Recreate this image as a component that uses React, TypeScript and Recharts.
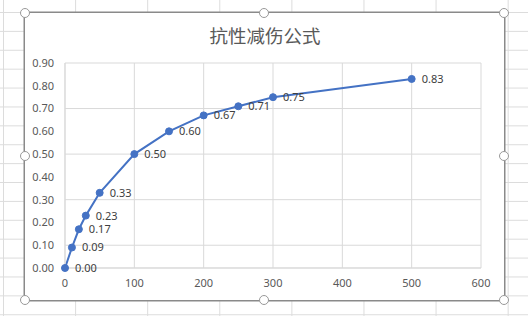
import { CartesianGrid, LabelList, Line, LineChart, XAxis, YAxis } from "recharts";

// resistance value vs. damage reduction
const resist = [0, 10, 20, 30, 50, 100, 150, 200, 250, 300, 500];
const reduction = [0, 0.09, 0.17, 0.23, 0.33, 0.5, 0.6, 0.67, 0.71, 0.75, 0.83];
const xTicks = [0, 100, 200, 300, 400, 500, 600];
const yTicks = [0, 0.1, 0.2, 0.3, 0.4, 0.5, 0.6, 0.7, 0.8, 0.9];
const title = "抗性减伤公式";

const data = resist.map((x, i) => ({ x, y: reduction[i] }));

const BLUE = "#4472C4";
const TEXT = "#595959";
const GRID = "#d9d9d9";
const FRAME = "#8a8a8a";

// selection handles around the chart frame
const handles = [
  [25, 13], [264, 13], [504, 13],
  [25, 156], [504, 156],
  [25, 300], [264, 300], [504, 300],
];

export default function App() {
  const tick = { fill: TEXT, fontSize: 11, fontFamily: "Noto Sans, sans-serif" };
  return (
    <div
      style={{
        position: "absolute",
        left: 0,
        top: 0,
        width: 528,
        height: 316,
        overflow: "hidden",
        background: "#fff",
        backgroundImage:
          "linear-gradient(to right, #dcdcdc 1px, transparent 1px), linear-gradient(to bottom, #dcdcdc 1px, transparent 1px)",
        backgroundSize: "72.1px 18.9px",
        backgroundPosition: "3px 12px",
      }}
    >
      <div
        style={{
          position: "absolute",
          left: 25,
          top: 13,
          width: 479,
          height: 287,
          background: "#fff",
          boxShadow: `0 0 0 1.5px ${FRAME}`,
        }}
      />
      <div
        style={{
          position: "absolute",
          left: 0,
          width: 528,
          top: 23,
          textAlign: "center",
          paddingLeft: 1,
          fontFamily: "Noto Sans CJK SC, sans-serif",
          fontSize: 18.5,
          lineHeight: "24px",
          color: TEXT,
        }}
      >
        {title}
      </div>
      <div style={{ position: "absolute", left: 0, top: 0 }}>
        <LineChart
          width={528}
          height={316}
          data={data}
          margin={{ top: 63, right: 47, bottom: 18, left: 25 }}
        >
          <CartesianGrid stroke={GRID} strokeWidth={1} />
          <XAxis
            dataKey="x"
            type="number"
            domain={[0, 600]}
            ticks={xTicks}
            tick={tick}
            tickLine={false}
            tickMargin={5}
            axisLine={{ stroke: GRID }}
            height={30}
          />
          <YAxis
            type="number"
            domain={[0, 0.9]}
            ticks={yTicks}
            tick={tick}
            tickLine={false}
            tickMargin={5}
            axisLine={{ stroke: GRID }}
            width={40}
            tickFormatter={(v: number) => v.toFixed(2)}
          />
          <Line
            type="linear"
            dataKey="y"
            stroke={BLUE}
            strokeWidth={2}
            dot={{ r: 3.5, fill: BLUE, stroke: BLUE, strokeWidth: 1 }}
            isAnimationActive={false}
          >
            <LabelList
              dataKey="y"
              position="right"
              offset={10}
              formatter={(v: number) => v.toFixed(2)}
              style={{ fill: "#404040", fontSize: 11, fontFamily: "Noto Sans, sans-serif" }}
            />
          </Line>
        </LineChart>
      </div>
      {handles.map(([x, y], i) => (
        <div
          key={i}
          style={{
            position: "absolute",
            left: x - 5.5,
            top: y - 5.5,
            width: 8,
            height: 8,
            borderRadius: "50%",
            border: `1.5px solid #999`,
            background: "#fff",
          }}
        />
      ))}
    </div>
  );
}
